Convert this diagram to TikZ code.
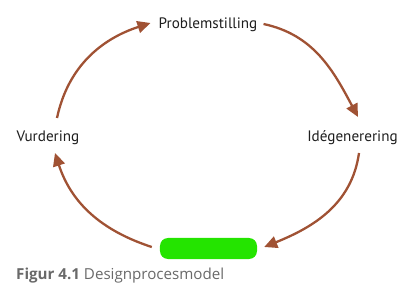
\documentclass[tikz,border=0pt]{standalone}
\usepackage{fontspec}
\setmainfont{PT Sans}
\newfontfamily\capfont{Open Sans}
\usepackage{xcolor}
\usepackage{tikz}
\usetikzlibrary{arrows.meta, positioning}
\definecolor{rust}{RGB}{160,82,52}
\definecolor{ink}{RGB}{30,30,30}
\definecolor{marker}{RGB}{36,228,0}
\definecolor{capgray}{RGB}{105,105,105}

\begin{document}
\begin{tikzpicture}[x=1bp, y=1bp,
      every node/.style={inner sep=0pt},
      lbl/.style={font=\fontsize{15.2}{18}\selectfont, text=ink, anchor=base},
      mask/.style={fill=marker, rounded corners=8bp, minimum width=97bp, minimum height=21bp},
      cyc/.style={draw=rust, line width=2.3bp, -{Triangle[length=13bp, width=12bp]}}]
    \useasboundingbox (0,0) rectangle (411,298);
    \node[lbl] (prob) at (208,270) {Problemstilling};
    \node[lbl] (idee) at (352.5,157) {Idégenerering};
    \node[lbl] (vurd) at (48,157) {Vurdering};
    \node[mask] (blob) at (208.5,49.5) {};
    \node[anchor=base west, font=\capfont\fontsize{15.2}{18}\selectfont, text=capgray]
      (cap) at (16,19) {\textbf{Figur 4.1} Designprocesmodel};
    % the four steps of the cycle
    \draw[cyc] ([shift={(9,23)}]vurd.base) to[out=78, in=198] ([shift={(-8,5)}]prob.base west);
    \draw[cyc] ([shift={(6,4)}]prob.base east) to[out=-12, in=118] ([shift={(5.5,24)}]idee.base);
    \draw[cyc] ([shift={(6.5,-12)}]idee.base) to[out=-98, in=22] ([shift={(7,1.5)}]blob.east);
    \draw[cyc] ([shift={(-8,1.5)}]blob.west) to[out=162, in=-72] ([shift={(7,-12)}]vurd.base);
  \end{tikzpicture}
\end{document}
